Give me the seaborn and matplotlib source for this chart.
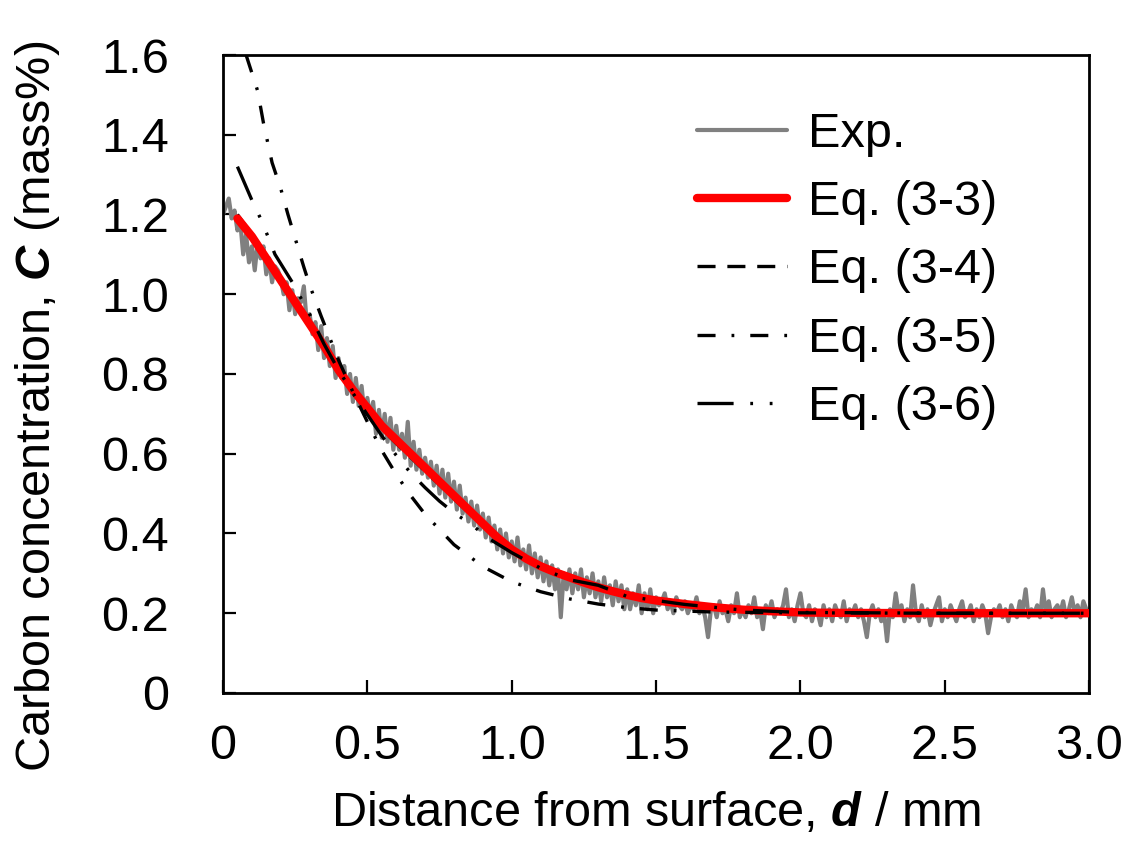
import numpy as np
import pandas as pd
import matplotlib
matplotlib.use("Agg")
import matplotlib.pyplot as plt
import seaborn as sns

# ---------------- data ----------------
# measured carbon profile, sampled every 0.01 mm from the surface
exp_d = np.linspace(0.0, 3.0, 301)
exp_c = [
    1.20, 1.22, 1.24, 1.19, 1.21, 1.16, 1.18, 1.10, 1.15, 1.08,
    1.12, 1.06, 1.13, 1.09, 1.12, 1.05, 1.09, 1.03, 1.07, 1.06,
    1.04, 1.00, 1.03, 0.96, 1.01, 0.95, 0.99, 0.98, 1.02, 0.93,
    0.95, 0.90, 0.93, 0.86, 0.92, 0.84, 0.89, 0.82, 0.87, 0.79,
    0.84, 0.79, 0.82, 0.75, 0.80, 0.73, 0.79, 0.72, 0.77, 0.70,
    0.74, 0.69, 0.73, 0.65, 0.71, 0.64, 0.70, 0.63, 0.69, 0.61,
    0.67, 0.61, 0.65, 0.59, 0.68, 0.57, 0.63, 0.56, 0.61, 0.55,
    0.59, 0.54, 0.58, 0.52, 0.57, 0.50, 0.56, 0.49, 0.55, 0.48,
    0.53, 0.46, 0.52, 0.45, 0.49, 0.43, 0.48, 0.42, 0.47, 0.41,
    0.45, 0.39, 0.44, 0.38, 0.42, 0.36, 0.41, 0.35, 0.40, 0.34,
    0.38, 0.33, 0.39, 0.32, 0.36, 0.31, 0.37, 0.30, 0.35, 0.29,
    0.34, 0.28, 0.33, 0.27, 0.32, 0.26, 0.31, 0.19, 0.30, 0.26,
    0.31, 0.25, 0.30, 0.26, 0.31, 0.24, 0.29, 0.25, 0.30, 0.24,
    0.28, 0.23, 0.29, 0.24, 0.27, 0.22, 0.28, 0.23, 0.27, 0.21,
    0.26, 0.21, 0.25, 0.22, 0.27, 0.20, 0.25, 0.21, 0.26, 0.20,
    0.24, 0.22, 0.23, 0.25, 0.21, 0.23, 0.20, 0.24, 0.22, 0.21,
    0.23, 0.20, 0.22, 0.21, 0.24, 0.20, 0.22, 0.19, 0.14, 0.21,
    0.22, 0.19, 0.23, 0.20, 0.21, 0.18, 0.22, 0.20, 0.25, 0.19,
    0.21, 0.19, 0.22, 0.20, 0.24, 0.19, 0.21, 0.16, 0.22, 0.20,
    0.23, 0.19, 0.21, 0.20, 0.22, 0.26, 0.19, 0.21, 0.18, 0.22,
    0.25, 0.20, 0.19, 0.22, 0.18, 0.21, 0.20, 0.17, 0.22, 0.19,
    0.21, 0.18, 0.22, 0.20, 0.19, 0.23, 0.18, 0.21, 0.20, 0.22,
    0.19, 0.21, 0.18, 0.14, 0.20, 0.22, 0.19, 0.21, 0.18, 0.20,
    0.13, 0.21, 0.19, 0.25, 0.20, 0.22, 0.18, 0.21, 0.19, 0.27,
    0.20, 0.18, 0.22, 0.19, 0.21, 0.17, 0.20, 0.22, 0.24, 0.18,
    0.21, 0.19, 0.22, 0.20, 0.18, 0.21, 0.23, 0.19, 0.20, 0.22,
    0.18, 0.21, 0.19, 0.22, 0.20, 0.15, 0.19, 0.21, 0.20, 0.22,
    0.19, 0.21, 0.18, 0.22, 0.20, 0.19, 0.23, 0.21, 0.26, 0.19,
    0.21, 0.20, 0.22, 0.19, 0.26, 0.20, 0.23, 0.19, 0.21, 0.22,
    0.20, 0.23, 0.19, 0.21, 0.24, 0.20, 0.22, 0.19, 0.23, 0.21, 0.20,
]

# Eq. (3-3) and Eq. (3-4)
eq33_d = [0.05, 0.10, 0.15, 0.20, 0.25, 0.30, 0.35, 0.40, 0.45, 0.50,
          0.55, 0.60, 0.65, 0.70, 0.75, 0.80, 0.85, 0.90, 0.95, 1.00,
          1.05, 1.10, 1.15, 1.20, 1.25, 1.30, 1.35, 1.40, 1.45, 1.50,
          1.60, 1.70, 1.80, 1.90, 2.00, 2.10, 2.50, 3.00]
eq33_c = [1.19, 1.145, 1.09, 1.035, 0.98, 0.925, 0.87, 0.81, 0.76, 0.715,
          0.67, 0.635, 0.60, 0.565, 0.53, 0.495, 0.46, 0.425, 0.39, 0.36,
          0.337, 0.318, 0.303, 0.29, 0.277, 0.265, 0.255, 0.246, 0.238, 0.232,
          0.223, 0.215, 0.209, 0.205, 0.202, 0.201, 0.200, 0.200]
eq34_c = [1.20, 1.15, 1.09, 1.03, 0.975, 0.92, 0.862, 0.803, 0.752, 0.706,
          0.662, 0.626, 0.591, 0.556, 0.522, 0.487, 0.453, 0.419, 0.385, 0.356,
          0.333, 0.314, 0.299, 0.286, 0.273, 0.262, 0.252, 0.243, 0.236, 0.230,
          0.221, 0.214, 0.208, 0.204, 0.202, 0.201, 0.200, 0.200]

# Eq. (3-5)
eq35_d = [0.08, 0.10, 0.12, 0.14, 0.17, 0.20, 0.225, 0.25, 0.28, 0.30,
          0.34, 0.40, 0.45, 0.50, 0.55, 0.60, 0.65, 0.70, 0.80, 0.90,
          1.00, 1.10, 1.20, 1.30, 1.40, 1.50, 1.70, 2.00, 2.50, 3.00]
eq35_c = [1.60, 1.555, 1.51, 1.43, 1.33, 1.265, 1.20, 1.14, 1.068, 1.023,
          0.945, 0.835, 0.755, 0.68, 0.608, 0.548, 0.495, 0.448, 0.372, 0.317,
          0.279, 0.254, 0.236, 0.223, 0.214, 0.208, 0.203, 0.201, 0.200, 0.200]

# Eq. (3-6)
eq36_d = [0.05, 0.10, 0.13, 0.155, 0.18, 0.24, 0.30, 0.35, 0.40, 0.45,
          0.50, 0.55, 0.60, 0.65, 0.70, 0.75, 0.80, 0.865, 0.917, 1.00,
          1.10, 1.20, 1.30, 1.40, 1.50, 1.60, 1.80, 2.00, 2.50, 3.00]
eq36_c = [1.32, 1.236, 1.19, 1.146, 1.10, 1.03, 0.95, 0.875, 0.81, 0.752,
          0.698, 0.645, 0.596, 0.552, 0.515, 0.481, 0.452, 0.42, 0.389, 0.352,
          0.313, 0.284, 0.270, 0.242, 0.232, 0.222, 0.208, 0.202, 0.200, 0.200]

labels = ["Exp.", "Eq. (3-3)", "Eq. (3-4)", "Eq. (3-5)", "Eq. (3-6)"]
x_ticks = [0, 0.5, 1.0, 1.5, 2.0, 2.5, 3.0]
x_ticklabels = ["0", "0.5", "1.0", "1.5", "2.0", "2.5", "3.0"]
y_ticks = [0, 0.2, 0.4, 0.6, 0.8, 1.0, 1.2, 1.4, 1.6]
y_ticklabels = ["0", "0.2", "0.4", "0.6", "0.8", "1.0", "1.2", "1.4", "1.6"]

# ---------------- style ----------------
sns.set_theme(style="ticks")
plt.rcParams["font.family"] = ["Liberation Sans", "DejaVu Sans"]
plt.rcParams["mathtext.fontset"] = "custom"
plt.rcParams["mathtext.rm"] = "Liberation Sans"
plt.rcParams["mathtext.it"] = "Liberation Sans:italic"
plt.rcParams["mathtext.bf"] = "Liberation Sans:bold"
plt.rcParams["mathtext.bfit"] = "Liberation Sans:italic:bold"
plt.rcParams["lines.scale_dashes"] = False
for key in ["text.color", "axes.labelcolor", "xtick.color", "ytick.color",
            "xtick.labelcolor", "ytick.labelcolor", "legend.labelcolor"]:
    plt.rcParams[key] = "black"

FS = 35

fig = plt.figure(figsize=(11.24, 8.41), dpi=100)
ax = fig.add_axes([0.1984, 0.176, 0.7706, 0.7586])

exp_df = pd.DataFrame({"d": exp_d, "c": exp_c})
sns.lineplot(data=exp_df, x="d", y="c", ax=ax, color="#808080", lw=3.0,
             sort=False, label=labels[0], zorder=2)
sns.lineplot(x=eq33_d, y=eq34_c, ax=ax, color="black", lw=2.4,
             linestyle=(0, (13, 8.5)), sort=False, label=labels[2], zorder=2.5)
sns.lineplot(x=eq33_d, y=eq33_c, ax=ax, color="#FF0000", lw=6.0,
             sort=False, label=labels[1], zorder=3, solid_capstyle="round")
sns.lineplot(x=eq35_d, y=eq35_c, ax=ax, color="black", lw=2.4,
             linestyle=(0, (13, 11.5, 2, 11.5)), sort=False, label=labels[3], zorder=4)
sns.lineplot(x=eq36_d, y=eq36_c, ax=ax, color="black", lw=2.4,
             linestyle=(0, (26, 12, 2, 12, 2, 12)), sort=False, label=labels[4], zorder=4)

ax.set_xlim(0, 3.0)
ax.set_ylim(0, 1.6)
ax.set_xticks(x_ticks)
ax.set_xticklabels(x_ticklabels)
ax.set_yticks(y_ticks)
ax.set_yticklabels(y_ticklabels)

for side in ["left", "right", "top", "bottom"]:
    ax.spines[side].set_visible(True)
    ax.spines[side].set_linewidth(2.0)
    ax.spines[side].set_color("black")

ax.tick_params(axis="both", direction="in", length=9.5, width=1.6,
               labelsize=FS, colors="black")
ax.tick_params(axis="x", pad=22)
ax.tick_params(axis="y", pad=39)

ax.set_xlabel(r"Distance from surface, $\mathbfit{d}$ / mm", fontsize=FS, color="black")
ax.set_ylabel(r"Carbon concentration, $\mathbfit{C}$ (mass%)", fontsize=FS, color="black")
ax.xaxis.set_label_coords(0.5, -0.154)
ax.yaxis.set_label_coords(-0.186, 0.45)

handles, lbls = ax.get_legend_handles_labels()
order = [lbls.index(l) for l in labels]
ax.legend([handles[i] for i in order], [lbls[i] for i in order],
          loc="upper left", bbox_to_anchor=(0.547, 0.911), frameon=False,
          fontsize=FS, handlelength=1.85, handletextpad=0.43,
          labelspacing=0.48, borderpad=0, borderaxespad=0, labelcolor="black")

fig.savefig("out.png", dpi=100)
